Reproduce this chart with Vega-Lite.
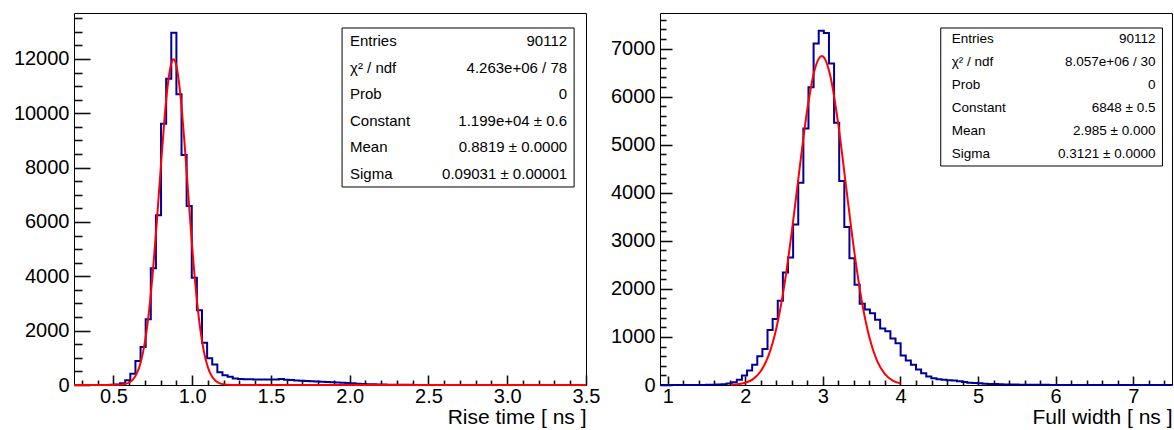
{
  "$schema": "https://vega.github.io/schema/vega-lite/v6.json",
  "background": "white",
  "padding": {"left": 12, "top": 12, "right": 2, "bottom": 0},
  "bounds": "flush",
  "spacing": 74,
  "config": {
    "view": {"stroke": "black", "strokeWidth": 1},
    "axis": {"domain": false, "grid": false, "ticks": true, "tickColor": "#111111", "tickWidth": 1.6, "tickOpacity": 1, "labelColor": "black", "titleColor": "black", "labelFont": "Liberation Sans", "titleFont": "Liberation Sans", "labelFontSize": 20, "titleFontSize": 21, "titleFontWeight": "normal", "labelOverlap": false, "labelFlush": false, "zindex": 1},
    "text": {"font": "Liberation Sans", "color": "black"}
  },
  "datasets": {
    "riseHist": [
      {"t": 0.25, "n": 0}, {"t": 0.4775, "n": 5}, {"t": 0.51, "n": 15}, {"t": 0.5425, "n": 62}, {"t": 0.575, "n": 173},
      {"t": 0.6075, "n": 416}, {"t": 0.64, "n": 883}, {"t": 0.6725, "n": 1398}, {"t": 0.705, "n": 2417}, {"t": 0.7375, "n": 4294},
      {"t": 0.77, "n": 6244}, {"t": 0.8025, "n": 9617}, {"t": 0.835, "n": 11273}, {"t": 0.8675, "n": 12965}, {"t": 0.9, "n": 10697},
      {"t": 0.9325, "n": 8464}, {"t": 0.965, "n": 6587}, {"t": 0.9975, "n": 3950}, {"t": 1.03, "n": 2747}, {"t": 1.0625, "n": 1558},
      {"t": 1.095, "n": 981}, {"t": 1.1275, "n": 750}, {"t": 1.16, "n": 465}, {"t": 1.1925, "n": 360}, {"t": 1.225, "n": 300},
      {"t": 1.2575, "n": 240}, {"t": 1.29, "n": 225}, {"t": 1.3225, "n": 215}, {"t": 1.355, "n": 210}, {"t": 1.3875, "n": 205},
      {"t": 1.42, "n": 205}, {"t": 1.4525, "n": 200}, {"t": 1.485, "n": 200}, {"t": 1.5175, "n": 205}, {"t": 1.55, "n": 225},
      {"t": 1.5825, "n": 195}, {"t": 1.615, "n": 180}, {"t": 1.6475, "n": 170}, {"t": 1.68, "n": 160}, {"t": 1.7125, "n": 150},
      {"t": 1.745, "n": 140}, {"t": 1.7775, "n": 130}, {"t": 1.81, "n": 120}, {"t": 1.8425, "n": 110}, {"t": 1.875, "n": 100},
      {"t": 1.9075, "n": 90}, {"t": 1.94, "n": 80}, {"t": 1.9725, "n": 70}, {"t": 2.005, "n": 60}, {"t": 2.0375, "n": 50},
      {"t": 2.07, "n": 40}, {"t": 2.1025, "n": 32}, {"t": 2.135, "n": 25}, {"t": 2.1675, "n": 20}, {"t": 2.2, "n": 15},
      {"t": 2.2325, "n": 12}, {"t": 2.265, "n": 10}, {"t": 2.2975, "n": 8}, {"t": 2.33, "n": 6}, {"t": 2.3625, "n": 5},
      {"t": 2.395, "n": 4}, {"t": 2.4275, "n": 3}, {"t": 2.46, "n": 2}, {"t": 2.4925, "n": 2}, {"t": 2.525, "n": 1},
      {"t": 2.6875, "n": 0}, {"t": 3.5, "n": 0}
    ],
    "riseFit": [
      {"t": 0.25, "f": 0}, {"t": 0.45, "f": 0.1}, {"t": 0.5, "f": 1.6}, {"t": 0.525, "f": 5}, {"t": 0.55, "f": 14},
      {"t": 0.575, "f": 37}, {"t": 0.6, "f": 92}, {"t": 0.625, "f": 210}, {"t": 0.65, "f": 444}, {"t": 0.675, "f": 869},
      {"t": 0.7, "f": 1577}, {"t": 0.725, "f": 2651}, {"t": 0.75, "f": 4127}, {"t": 0.775, "f": 5951}, {"t": 0.8, "f": 7948},
      {"t": 0.825, "f": 9832}, {"t": 0.85, "f": 11265}, {"t": 0.875, "f": 11955}, {"t": 0.882, "f": 11990}, {"t": 0.9, "f": 11751},
      {"t": 0.925, "f": 10700}, {"t": 0.95, "f": 9024}, {"t": 0.975, "f": 7048}, {"t": 1.0, "f": 5098}, {"t": 1.025, "f": 3416},
      {"t": 1.05, "f": 2121}, {"t": 1.075, "f": 1220}, {"t": 1.1, "f": 649}, {"t": 1.125, "f": 320}, {"t": 1.15, "f": 146},
      {"t": 1.175, "f": 62}, {"t": 1.2, "f": 24}, {"t": 1.225, "f": 9}, {"t": 1.25, "f": 3}, {"t": 1.3, "f": 0.2},
      {"t": 1.4, "f": 0}, {"t": 3.5, "f": 0}
    ],
    "riseStats": [
      {"r": 0, "name": "Entries", "val": "90112"},
      {"r": 1, "name": "χ² / ndf", "val": "4.263e+06 / 78"},
      {"r": 2, "name": "Prob", "val": "0"},
      {"r": 3, "name": "Constant", "val": "1.199e+04 ± 0.6"},
      {"r": 4, "name": "Mean", "val": "0.8819 ± 0.0000"},
      {"r": 5, "name": "Sigma", "val": "0.09031 ± 0.00001"}
    ],
    "widthHist": [
      {"t": 0.9, "n": 0}, {"t": 1.362, "n": 1}, {"t": 1.428, "n": 2}, {"t": 1.494, "n": 4}, {"t": 1.56, "n": 6},
      {"t": 1.626, "n": 10}, {"t": 1.692, "n": 18}, {"t": 1.758, "n": 30}, {"t": 1.824, "n": 58}, {"t": 1.89, "n": 108},
      {"t": 1.956, "n": 197}, {"t": 2.022, "n": 301}, {"t": 2.088, "n": 419}, {"t": 2.154, "n": 598}, {"t": 2.22, "n": 751},
      {"t": 2.286, "n": 1146}, {"t": 2.352, "n": 1374}, {"t": 2.418, "n": 1754}, {"t": 2.484, "n": 2342}, {"t": 2.55, "n": 2653},
      {"t": 2.616, "n": 3340}, {"t": 2.682, "n": 4210}, {"t": 2.748, "n": 5340}, {"t": 2.814, "n": 6197}, {"t": 2.88, "n": 7104},
      {"t": 2.946, "n": 7374}, {"t": 3.012, "n": 7324}, {"t": 3.078, "n": 6689}, {"t": 3.144, "n": 5456}, {"t": 3.21, "n": 4245},
      {"t": 3.276, "n": 3290}, {"t": 3.342, "n": 2640}, {"t": 3.408, "n": 2086}, {"t": 3.474, "n": 1690}, {"t": 3.54, "n": 1570},
      {"t": 3.606, "n": 1491}, {"t": 3.672, "n": 1360}, {"t": 3.738, "n": 1175}, {"t": 3.804, "n": 1120}, {"t": 3.87, "n": 968},
      {"t": 3.936, "n": 868}, {"t": 4.002, "n": 612}, {"t": 4.068, "n": 509}, {"t": 4.134, "n": 419}, {"t": 4.2, "n": 322},
      {"t": 4.266, "n": 245}, {"t": 4.332, "n": 176}, {"t": 4.398, "n": 142}, {"t": 4.464, "n": 121}, {"t": 4.53, "n": 107},
      {"t": 4.596, "n": 100}, {"t": 4.662, "n": 93}, {"t": 4.728, "n": 80}, {"t": 4.794, "n": 60}, {"t": 4.86, "n": 46},
      {"t": 4.926, "n": 40}, {"t": 4.992, "n": 34}, {"t": 5.058, "n": 28}, {"t": 5.124, "n": 23}, {"t": 5.19, "n": 19},
      {"t": 5.256, "n": 16}, {"t": 5.322, "n": 13}, {"t": 5.388, "n": 11}, {"t": 5.454, "n": 9}, {"t": 5.52, "n": 7},
      {"t": 5.586, "n": 6}, {"t": 5.652, "n": 5}, {"t": 5.718, "n": 4}, {"t": 5.784, "n": 3}, {"t": 5.85, "n": 3},
      {"t": 5.916, "n": 2}, {"t": 5.982, "n": 2}, {"t": 6.048, "n": 1}, {"t": 6.114, "n": 1}, {"t": 6.312, "n": 0},
      {"t": 7.5, "n": 0}
    ],
    "widthFit": [
      {"t": 1.82, "f": 6.5}, {"t": 1.9, "f": 16}, {"t": 2.0, "f": 47}, {"t": 2.1, "f": 123}, {"t": 2.2, "f": 290},
      {"t": 2.3, "f": 616}, {"t": 2.4, "f": 1182}, {"t": 2.5, "f": 2047}, {"t": 2.6, "f": 3200}, {"t": 2.7, "f": 4513},
      {"t": 2.8, "f": 5745}, {"t": 2.9, "f": 6599}, {"t": 2.985, "f": 6848}, {"t": 3.0, "f": 6840}, {"t": 3.1, "f": 6399},
      {"t": 3.2, "f": 5402}, {"t": 3.3, "f": 4115}, {"t": 3.4, "f": 2829}, {"t": 3.5, "f": 1755}, {"t": 3.6, "f": 983},
      {"t": 3.7, "f": 496}, {"t": 3.8, "f": 226}, {"t": 3.9, "f": 93}, {"t": 4.0, "f": 35}
    ],
    "widthStats": [
      {"r": 0, "name": "Entries", "val": "90112"},
      {"r": 1, "name": "χ² / ndf", "val": "8.057e+06 / 30"},
      {"r": 2, "name": "Prob", "val": "0"},
      {"r": 3, "name": "Constant", "val": "6848 ± 0.5"},
      {"r": 4, "name": "Mean", "val": "2.985 ± 0.000"},
      {"r": 5, "name": "Sigma", "val": "0.3121 ± 0.0000"}
    ]
  },
  "hconcat": [
    {
      "width": 512,
      "height": 372,
      "resolve": {"scale": {"y": "independent"}},
      "layer": [
        {
          "resolve": {"axis": {"x": "independent", "y": "independent"}},
          "layer": [
            {
              "data": {"name": "riseHist"},
              "mark": {"type": "line", "interpolate": "step-after", "color": "#000099", "strokeWidth": 2},
              "encoding": {
                "x": {"field": "t", "type": "quantitative",
                  "scale": {"domain": [0.25, 3.5], "nice": false, "zero": false},
                  "axis": {
                    "orient": "bottom",
                    "values": [0.5, 1.0, 1.5, 2.0, 2.5, 3.0, 3.5],
                    "format": ".1f",
                    "tickSize": 10, "offset": -10, "labelPadding": 1.5,
                    "title": "Rise time [ ns ]", "titleAnchor": "end", "titleAlign": "right", "titlePadding": 0
                  }
                },
                "y": {"field": "n", "type": "quantitative",
                  "scale": {"domain": [0, 13690], "nice": false},
                  "axis": {
                    "orient": "left",
                    "values": [0, 2000, 4000, 6000, 8000, 10000, 12000],
                    "format": "d",
                    "tickSize": 16, "offset": -16, "labelPadding": 5,
                    "title": null
                  }
                }
              }
            },
            {
              "data": {"name": "riseFit"},
              "mark": {"type": "line", "interpolate": "monotone", "color": "#ff0000", "strokeWidth": 2},
              "encoding": {
                "x": {"field": "t", "type": "quantitative",
                  "axis": {
                    "orient": "bottom",
                    "values": [0.3,0.4,0.6,0.7,0.8,0.9,1.1,1.2,1.3,1.4,1.6,1.7,1.8,1.9,2.1,2.2,2.3,2.4,2.6,2.7,2.8,2.9,3.1,3.2,3.3,3.4],
                    "labels": false, "tickSize": 5, "offset": -5, "title": null
                  }
                },
                "y": {"field": "f", "type": "quantitative",
                  "axis": {
                    "orient": "left",
                    "values": [500,1000,1500,2500,3000,3500,4500,5000,5500,6500,7000,7500,8500,9000,9500,10500,11000,11500,12500,13000,13500],
                    "labels": false, "tickSize": 8, "offset": -8, "title": null
                  }
                }
              }
            }
          ]
        },
        {
          "layer": [
            {
              "data": {"values": [{"box": 1}]},
              "mark": {"type": "rect", "fill": "white", "stroke": "black", "strokeWidth": 1},
              "encoding": {
                "x": {"datum": 1.9516, "type": "quantitative", "scale": {"domain": [0.25, 3.5], "nice": false, "zero": false}, "axis": null},
                "x2": {"datum": 3.4246},
                "y": {"datum": -0.5, "type": "quantitative", "scale": {"domain": [-1.066, 12.972], "reverse": true, "nice": false, "zero": false}, "axis": null},
                "y2": {"datum": 5.5}
              }
            },
            {
              "data": {"name": "riseStats"},
              "mark": {"type": "text", "align": "left", "baseline": "middle", "fontSize": 15},
              "encoding": {
                "x": {"datum": 2.002, "type": "quantitative", "axis": null},
                "y": {"field": "r", "type": "quantitative", "axis": null},
                "text": {"field": "name"}
              }
            },
            {
              "data": {"name": "riseStats"},
              "mark": {"type": "text", "align": "right", "baseline": "middle", "fontSize": 15},
              "encoding": {
                "x": {"datum": 3.38, "type": "quantitative", "axis": null},
                "y": {"field": "r", "type": "quantitative", "axis": null},
                "text": {"field": "val"}
              }
            }
          ]
        }
      ]
    },
    {
      "width": 512,
      "height": 372,
      "resolve": {"scale": {"y": "independent"}},
      "layer": [
        {
          "resolve": {"axis": {"x": "independent", "y": "independent"}},
          "layer": [
            {
              "data": {"name": "widthHist"},
              "mark": {"type": "line", "interpolate": "step-after", "color": "#000099", "strokeWidth": 2},
              "encoding": {
                "x": {"field": "t", "type": "quantitative",
                  "scale": {"domain": [0.9, 7.5], "nice": false, "zero": false},
                  "axis": {
                    "orient": "bottom",
                    "values": [1, 2, 3, 4, 5, 6, 7],
                    "format": "d",
                    "tickSize": 9, "offset": -9, "labelPadding": 1.5,
                    "title": "Full width [ ns ]", "titleAnchor": "end", "titleAlign": "right", "titlePadding": 0
                  }
                },
                "y": {"field": "n", "type": "quantitative",
                  "scale": {"domain": [0, 7741], "nice": false},
                  "axis": {
                    "orient": "left",
                    "values": [0, 1000, 2000, 3000, 4000, 5000, 6000, 7000],
                    "format": "d",
                    "tickSize": 12, "offset": -12, "labelPadding": 5,
                    "title": null
                  }
                }
              }
            },
            {
              "data": {"name": "widthFit"},
              "mark": {"type": "line", "interpolate": "monotone", "color": "#ff0000", "strokeWidth": 2},
              "encoding": {
                "x": {"field": "t", "type": "quantitative",
                  "axis": {
                    "orient": "bottom",
                    "values": [1.2,1.4,1.6,1.8,2.2,2.4,2.6,2.8,3.2,3.4,3.6,3.8,4.2,4.4,4.6,4.8,5.2,5.4,5.6,5.8,6.2,6.4,6.6,6.8,7.2,7.4],
                    "labels": false, "tickSize": 5, "offset": -5, "title": null
                  }
                },
                "y": {"field": "f", "type": "quantitative",
                  "axis": {
                    "orient": "left",
                    "values": [200,400,600,800,1200,1400,1600,1800,2200,2400,2600,2800,3200,3400,3600,3800,4200,4400,4600,4800,5200,5400,5600,5800,6200,6400,6600,6800,7200,7400,7600],
                    "labels": false, "tickSize": 6, "offset": -6, "title": null
                  }
                }
              }
            }
          ]
        },
        {
          "layer": [
            {
              "data": {"values": [{"box": 1}]},
              "mark": {"type": "rect", "fill": "white", "stroke": "black", "strokeWidth": 1},
              "encoding": {
                "x": {"datum": 4.519, "type": "quantitative", "scale": {"domain": [0.9, 7.5], "nice": false, "zero": false}, "axis": null},
                "x2": {"datum": 7.377},
                "y": {"datum": -0.5, "type": "quantitative", "scale": {"domain": [-1.152, 15.022], "reverse": true, "nice": false, "zero": false}, "axis": null},
                "y2": {"datum": 5.5}
              }
            },
            {
              "data": {"name": "widthStats"},
              "mark": {"type": "text", "align": "left", "baseline": "middle", "fontSize": 13.5},
              "encoding": {
                "x": {"datum": 4.66, "type": "quantitative", "axis": null},
                "y": {"field": "r", "type": "quantitative", "axis": null},
                "text": {"field": "name"}
              }
            },
            {
              "data": {"name": "widthStats"},
              "mark": {"type": "text", "align": "right", "baseline": "middle", "fontSize": 13.5},
              "encoding": {
                "x": {"datum": 7.287, "type": "quantitative", "axis": null},
                "y": {"field": "r", "type": "quantitative", "axis": null},
                "text": {"field": "val"}
              }
            }
          ]
        }
      ]
    }
  ]
}
